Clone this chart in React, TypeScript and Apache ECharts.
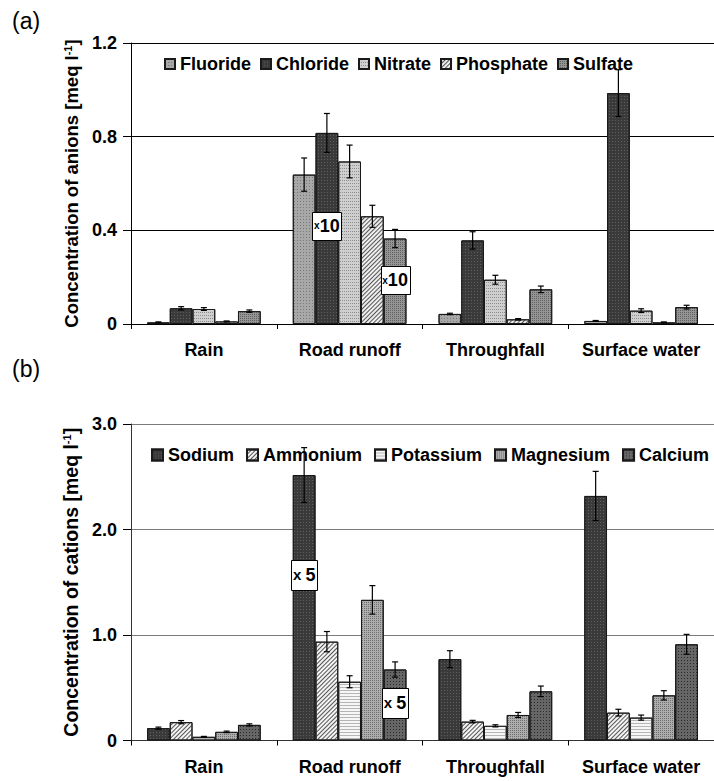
import React, { useEffect, useRef } from 'react';
import * as echarts from 'echarts';

const FONT = "'Liberation Sans', Arial, sans-serif";

const categories = ['Rain', 'Road runoff', 'Throughfall', 'Surface water'];

// (a) anions [meq l-1]
const anionNames = ['Fluoride', 'Chloride', 'Nitrate', 'Phosphate', 'Sulfate'];
const fluoride = [0.007, 0.638, 0.043, 0.013];
const chloride = [0.067, 0.816, 0.357, 0.986];
const nitrate = [0.064, 0.694, 0.189, 0.057];
const phosphate = [0.011, 0.46, 0.02, 0.007];
const sulfate = [0.055, 0.365, 0.148, 0.072];
const fluorideErr = [0.002, 0.071, 0.003, 0.002];
const chlorideErr = [0.007, 0.083, 0.037, 0.1];
const nitrateErr = [0.006, 0.07, 0.019, 0.008];
const phosphateErr = [0.002, 0.047, 0.003, 0.002];
const sulfateErr = [0.005, 0.039, 0.014, 0.008];
const anionTicks = [0, 0.4, 0.8, 1.2];

// (b) cations [meq l-1]
const cationNames = ['Sodium', 'Ammonium', 'Potassium', 'Magnesium', 'Calcium'];
const sodium = [0.117, 2.516, 0.771, 2.318];
const ammonium = [0.174, 0.937, 0.179, 0.264];
const potassium = [0.035, 0.557, 0.139, 0.217];
const magnesium = [0.082, 1.333, 0.242, 0.428];
const calcium = [0.148, 0.673, 0.466, 0.912];
const sodiumErr = [0.01, 0.26, 0.08, 0.233];
const ammoniumErr = [0.015, 0.096, 0.012, 0.032];
const potassiumErr = [0.004, 0.057, 0.01, 0.024];
const magnesiumErr = [0.007, 0.135, 0.024, 0.044];
const calciumErr = [0.01, 0.072, 0.05, 0.094];
const cationTicks = [0, 1.0, 2.0, 3.0];

// scale annotations (boxes drawn on bars)
const anionNotes = [
  { category: 'Road runoff', series: 'Chloride', value: 0.42, prefix: 'x', main: '10' },
  { category: 'Road runoff', series: 'Sulfate', value: 0.187, prefix: 'x', main: '10' },
];
const cationNotes = [
  { category: 'Road runoff', series: 'Sodium', value: 1.57, prefix: 'x ', main: '5' },
  { category: 'Road runoff', series: 'Calcium', value: 0.36, prefix: 'x ', main: '5' },
];

const GAP = 0.22;

const anionStyles: any[] = [
  { color: '#a8a8a8', decal: { symbol: 'rect', symbolSize: 1, color: 'rgba(80,80,80,0.55)', dashArrayX: [1, 2], dashArrayY: [1, 2] } },
  { color: '#3a3a3a', decal: { symbol: 'rect', symbolSize: 1, color: 'rgba(120,120,120,0.6)', dashArrayX: [1, 2], dashArrayY: [1, 2] } },
  { color: '#cfcfcf', decal: { symbol: 'rect', symbolSize: 1, color: 'rgba(100,100,100,0.6)', dashArrayX: [1, 1], dashArrayY: [1, 2] } },
  { color: '#eeeeee', decal: { symbol: 'rect', symbolSize: 1, color: '#555', dashArrayX: [1, 0], dashArrayY: [1, 1.5], rotation: -Math.PI / 4 } },
  { color: '#959595', decal: { symbol: 'rect', symbolSize: 1, color: 'rgba(60,60,60,0.6)', dashArrayX: [1, 1], dashArrayY: [1, 1] } },
];
const cationStyles: any[] = [
  { color: '#3a3a3a', decal: { symbol: 'rect', symbolSize: 1, color: 'rgba(120,120,120,0.6)', dashArrayX: [1, 2], dashArrayY: [1, 2] } },
  { color: '#f4f4f4', decal: { symbol: 'rect', symbolSize: 1, color: '#555', dashArrayX: [1, 0], dashArrayY: [1, 1.6], rotation: -Math.PI / 4 } },
  { color: '#f6f6f6', decal: { symbol: 'rect', symbolSize: 1, color: '#b5b5b5', dashArrayX: [1, 0], dashArrayY: [1, 2] } },
  { color: '#adadad', decal: { symbol: 'rect', symbolSize: 1, color: 'rgba(70,70,70,0.6)', dashArrayX: [1, 1], dashArrayY: [1, 1] } },
  { color: '#666666', decal: { symbol: 'rect', symbolSize: 1, color: '#2a2a2a', dashArrayX: [1, 2], dashArrayY: [1, 2] } },
];

const anionValues = [fluoride, chloride, nitrate, phosphate, sulfate];
const anionErrs = [fluorideErr, chlorideErr, nitrateErr, phosphateErr, sulfateErr];
const cationValues = [sodium, ammonium, potassium, magnesium, calcium];
const cationErrs = [sodiumErr, ammoniumErr, potassiumErr, magnesiumErr, calciumErr];

function barX(api: any, c: number, s: number, v: number, n: number) {
  const band = api.size([1, 0])[0];
  const groupW = band * (1 - GAP);
  const bw = groupW / n;
  const p = api.coord([c, v]);
  return { x: p[0] - groupW / 2 + bw * (s + 0.5), y: p[1] };
}

function errorRenderer(n: number) {
  return (params: any, api: any) => {
    const c = api.value(0), s = api.value(1), v = api.value(2), e = api.value(3);
    const { x } = barX(api, c, s, v, n);
    const top = api.coord([c, v + e])[1];
    const bot = api.coord([c, v - e])[1];
    const cap = 3;
    const ls = { stroke: '#000', lineWidth: 1.2 };
    return {
      type: 'group',
      children: [
        { type: 'line', shape: { x1: x, y1: top, x2: x, y2: bot }, style: ls },
        { type: 'line', shape: { x1: x - cap, y1: top, x2: x + cap, y2: top }, style: ls },
        { type: 'line', shape: { x1: x - cap, y1: bot, x2: x + cap, y2: bot }, style: ls },
      ],
    };
  };
}

function noteRenderer(notes: any[], n: number, boxW: number, boxH: number, small: number, big: number) {
  return (params: any, api: any) => {
    const note = notes[params.dataIndex];
    const c = api.value(0), s = api.value(1), v = api.value(2);
    const { x, y } = barX(api, c, s, v, n);
    return {
      type: 'group',
      children: [
        {
          type: 'rect',
          shape: { x: Math.round(x - boxW / 2) + 0.5, y: Math.round(y - boxH / 2) + 0.5, width: boxW, height: boxH },
          style: { fill: '#fff', stroke: '#000', lineWidth: 1 },
        },
        {
          type: 'text',
          x: x,
          y: y,
          style: {
            text: `{s|${note.prefix}}{b|${note.main}}`,
            align: 'center',
            verticalAlign: 'middle',
            rich: {
              s: { fontSize: small, fontWeight: 'bold', fontFamily: FONT, fill: '#000' },
              b: { fontSize: big, fontWeight: 'bold', fontFamily: FONT, fill: '#000' },
            },
          },
        },
      ],
    };
  };
}

function buildSeries(names: string[], values: number[][], errs: number[][], styles: any[], notes: any[], axisIdx: number, boxW: number, boxH: number, small: number, big: number) {
  const bars = names.map((name, i) => ({
    name,
    type: 'bar',
    xAxisIndex: axisIdx,
    yAxisIndex: axisIdx,
    data: values[i],
    barGap: '0%',
    barCategoryGap: `${GAP * 100}%`,
    itemStyle: { ...styles[i], borderColor: '#1a1a1a', borderWidth: 1 },
    emphasis: { disabled: true },
  }));
  const errData: number[][] = [];
  names.forEach((_, s) => {
    categories.forEach((_, c) => errData.push([c, s, values[s][c], errs[s][c]]));
  });
  const errSeries = {
    type: 'custom',
    xAxisIndex: axisIdx,
    yAxisIndex: axisIdx,
    renderItem: errorRenderer(names.length),
    data: errData,
    encode: { x: 0, y: 2 },
    z: 5,
    clip: false,
  };
  const noteSeries = {
    type: 'custom',
    xAxisIndex: axisIdx,
    yAxisIndex: axisIdx,
    renderItem: noteRenderer(notes, names.length, boxW, boxH, small, big),
    data: notes.map((nt) => [categories.indexOf(nt.category), names.indexOf(nt.series), nt.value]),
    encode: { x: 0, y: 2 },
    z: 6,
    clip: false,
  };
  return [...bars, errSeries, noteSeries];
}

const tickFmt = (v: number) => (v === 0 ? '0' : v.toFixed(1));

export default function App() {
  const ref = useRef<HTMLDivElement>(null);
  useEffect(() => {
    if (!ref.current) return;
    const chart = echarts.init(ref.current, null, { renderer: 'svg' });
    const labelStyle = { fontFamily: FONT, fontWeight: 'bold', fontSize: 18, color: '#000' };
    const option: any = {
      animation: false,
      textStyle: { fontFamily: FONT },
      graphic: [
        { type: 'text', left: 12, top: 9, style: { text: '(a)', font: `23px ${FONT}`, fill: '#000' } },
        { type: 'text', left: 12, top: 357, style: { text: '(b)', font: `23px ${FONT}`, fill: '#000' } },
      ],
      legend: [
        {
          data: anionNames,
          left: 159,
          top: 50,
          width: 600,
          itemWidth: 10,
          itemHeight: 10,
          itemGap: 9,
          icon: 'rect',
          textStyle: labelStyle,
          selectedMode: false,
        },
        {
          data: cationNames,
          left: 146,
          top: 441,
          width: 620,
          itemWidth: 11,
          itemHeight: 11,
          itemGap: 12,
          icon: 'rect',
          textStyle: labelStyle,
          selectedMode: false,
        },
      ],
      grid: [
        { left: 131, top: 43, width: 584, height: 281 },
        { left: 131, top: 424, width: 590, height: 316.5 },
      ],
      xAxis: [0, 1].map((i) => ({
        type: 'category',
        gridIndex: i,
        data: categories,
        axisLine: { show: true, lineStyle: { color: i === 0 ? '#000' : '#333', width: 1 } },
        axisTick: { show: true, length: 5, lineStyle: { color: '#000' } },
        axisLabel: { ...labelStyle, margin: 17, interval: 0 },
      })),
      yAxis: [
        {
          type: 'value',
          gridIndex: 0,
          min: anionTicks[0],
          max: anionTicks[anionTicks.length - 1],
          interval: anionTicks[1] - anionTicks[0],
          axisLine: { show: true, lineStyle: { color: '#000' } },
          axisTick: { show: true, length: 8, lineStyle: { color: '#000' } },
          axisLabel: { ...labelStyle, margin: 14, formatter: tickFmt },
          splitLine: { show: true, lineStyle: { color: '#000', width: 1 } },
          name: '{t|Concentration of anions [meq l}{s|-1}{t|]}',
          nameLocation: 'middle',
          nameGap: 47,
          nameTextStyle: {
            rich: {
              t: { fontFamily: FONT, fontWeight: 'bold', fontSize: 18.5, color: '#000' },
              s: { fontFamily: FONT, fontWeight: 'bold', fontSize: 11, color: '#000', verticalAlign: 'top', padding: [0, 0, 8, 0] },
            },
          },
        },
        {
          type: 'value',
          gridIndex: 1,
          min: cationTicks[0],
          max: cationTicks[cationTicks.length - 1],
          interval: cationTicks[1] - cationTicks[0],
          axisLine: { show: true, lineStyle: { color: '#333' } },
          axisTick: { show: true, length: 8, lineStyle: { color: '#000' } },
          axisLabel: { ...labelStyle, margin: 14, formatter: tickFmt },
          splitLine: { show: true, lineStyle: { color: '#7a7a7a', width: 1 } },
          name: '{t|Concentration of cations [meq l}{s|-1}{t|]}',
          nameLocation: 'middle',
          nameGap: 47,
          nameTextStyle: {
            rich: {
              t: { fontFamily: FONT, fontWeight: 'bold', fontSize: 19.5, color: '#000' },
              s: { fontFamily: FONT, fontWeight: 'bold', fontSize: 11, color: '#000', verticalAlign: 'top', padding: [0, 0, 8, 0] },
            },
          },
        },
      ],
      series: [
        ...buildSeries(anionNames, anionValues, anionErrs, anionStyles, anionNotes, 0, 29, 28, 10, 18),
        ...buildSeries(cationNames, cationValues, cationErrs, cationStyles, cationNotes, 1, 26, 30, 15, 18),
      ],
    };
    chart.setOption(option);
    return () => chart.dispose();
  }, []);
  return (
    <div
      ref={ref}
      style={{ position: 'absolute', left: 0, top: 0, width: 714, height: 781, background: '#fff' }}
    />
  );
}
